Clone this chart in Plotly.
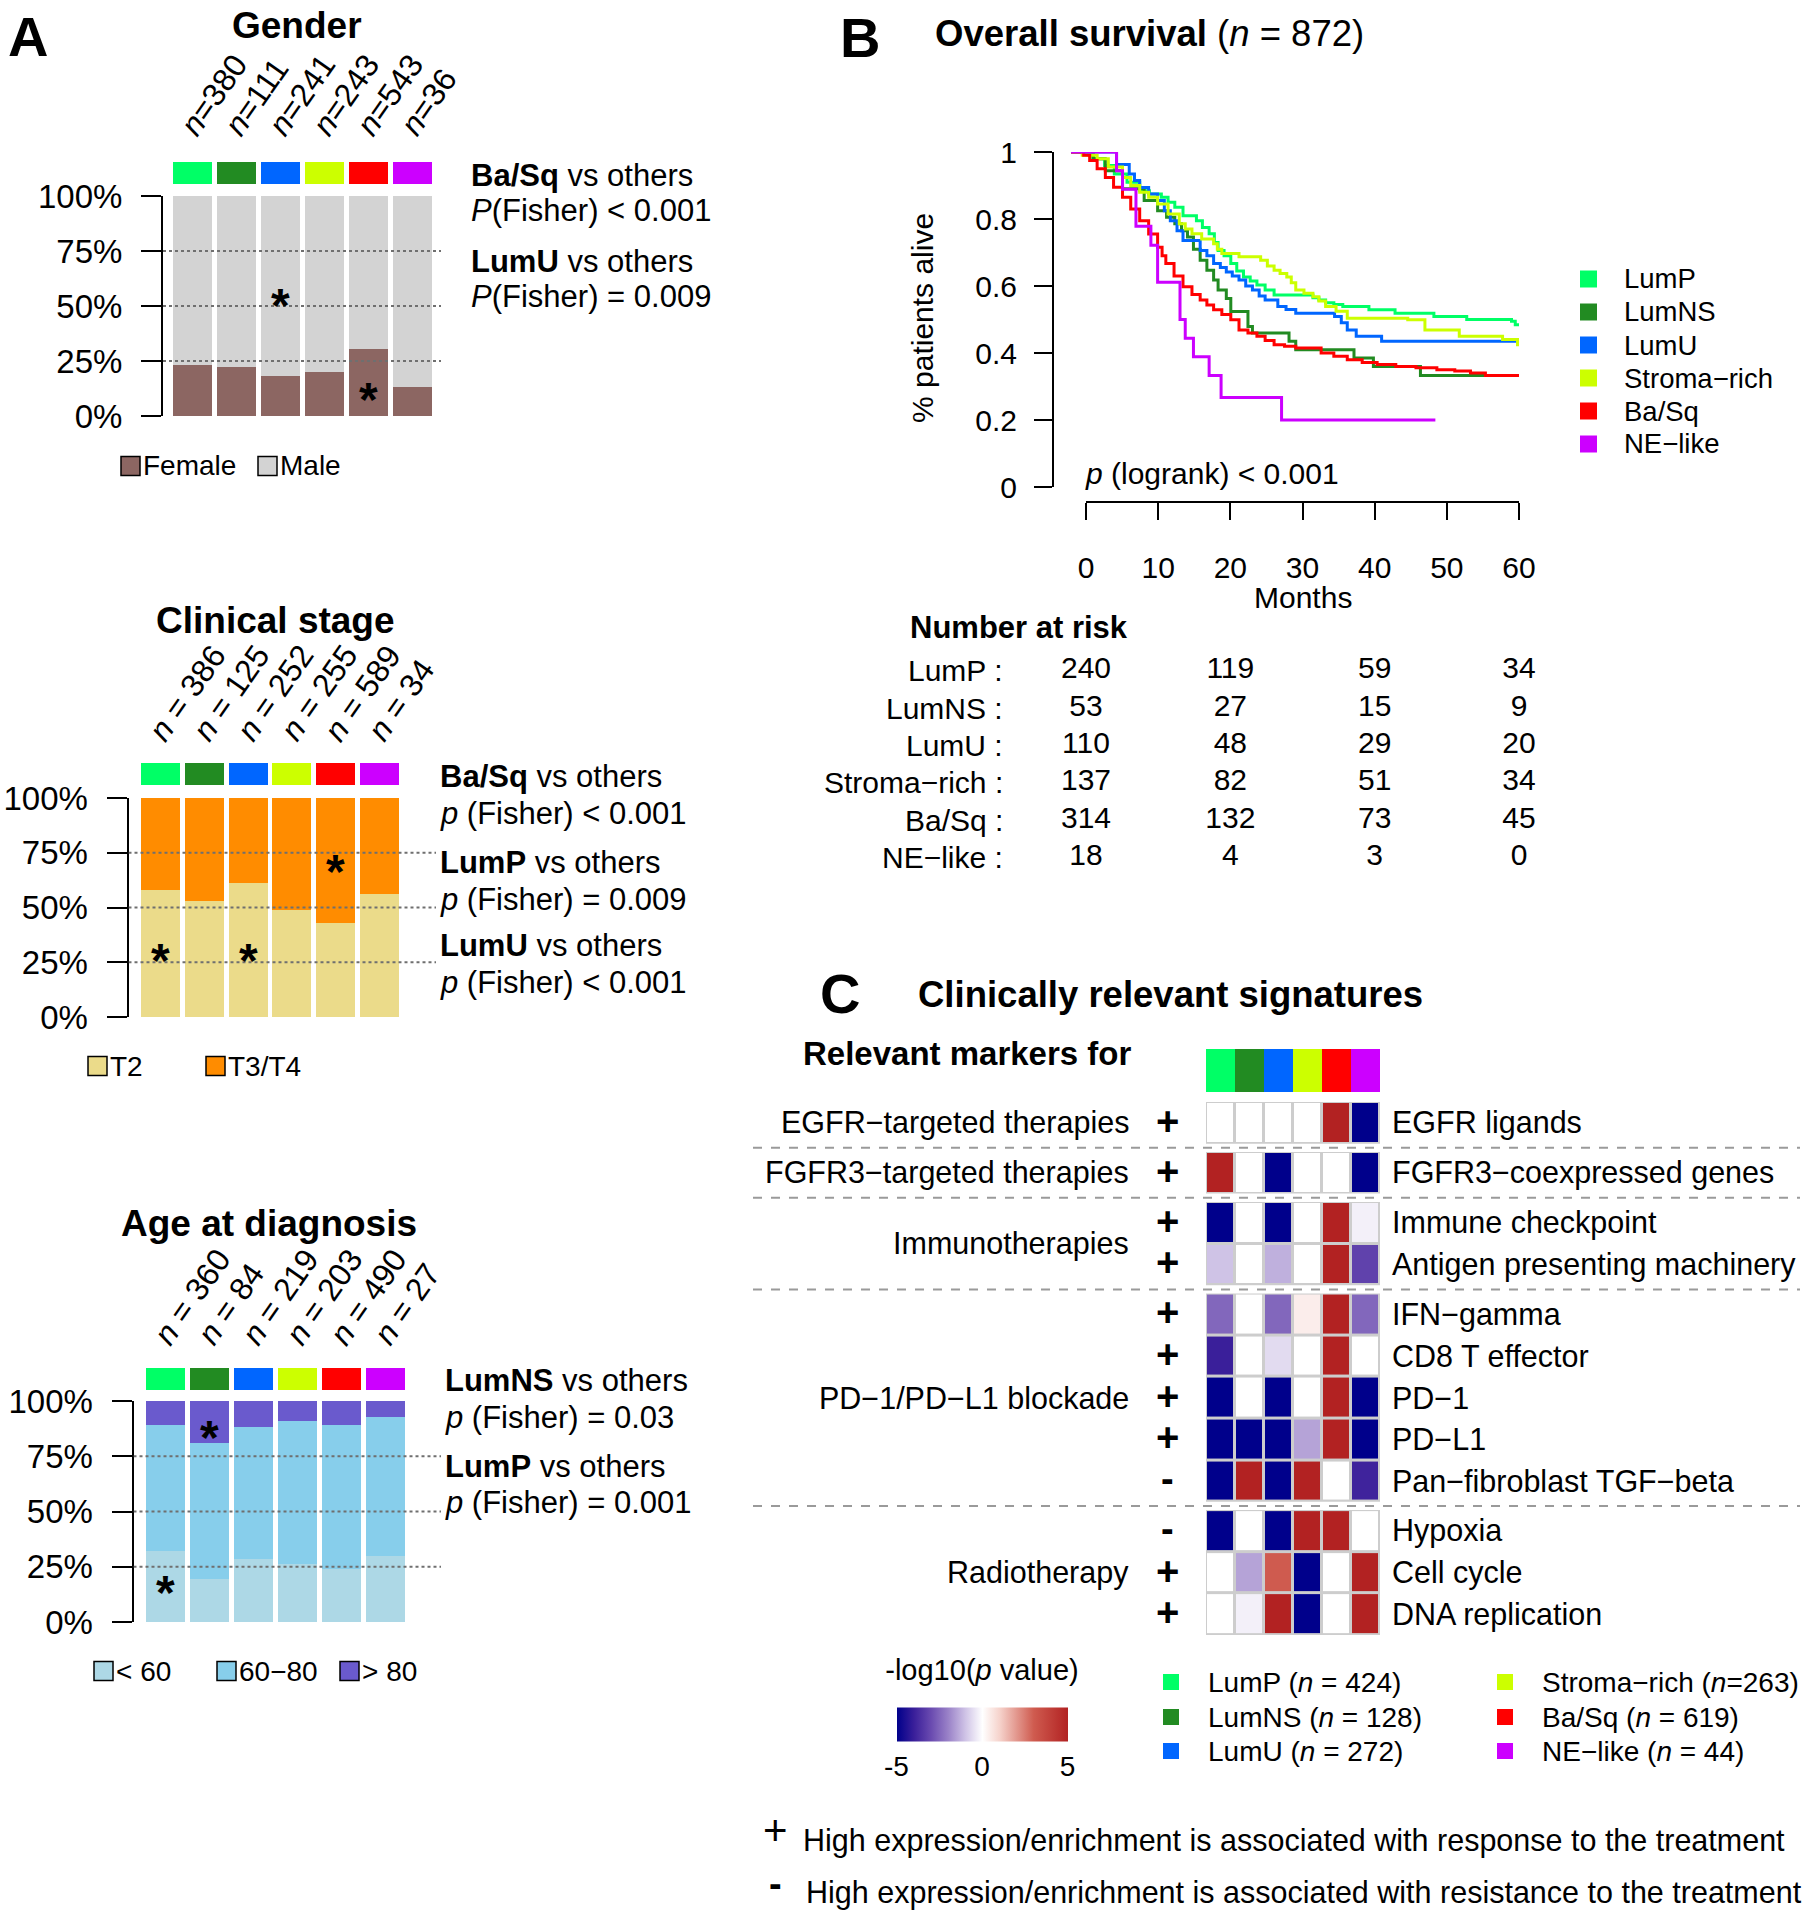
import plotly.graph_objects as go

W, H = 1817, 1920
FONT = "Liberation Sans, Arial, Helvetica, sans-serif"


def px(x):
    return x / W


def py(y):
    return 1 - y / H


# ------------------------------------------------------------------ data
subtypes = ["LumP", "LumNS", "LumU", "Stroma−rich", "Ba/Sq", "NE−like"]
subtype_colors = ["#00FF66", "#228B22", "#0066FF", "#CCFF00", "#FF0000", "#CC00FF"]
subtype_total_n = [424, 128, 272, 263, 619, 44]

# Panel A - Gender
gender_n = [380, 111, 241, 243, 543, 36]
gender_female = [0.234, 0.222, 0.183, 0.200, 0.306, 0.133]
gender_male = [0.766, 0.778, 0.817, 0.800, 0.694, 0.867]

# Panel A - Clinical stage
stage_n = [386, 125, 252, 255, 589, 34]
stage_t2 = [0.582, 0.528, 0.612, 0.487, 0.431, 0.560]
stage_t3t4 = [0.418, 0.472, 0.388, 0.513, 0.569, 0.440]

# Panel A - Age at diagnosis
age_n = [360, 84, 219, 203, 490, 27]
age_lt60 = [0.322, 0.194, 0.285, 0.264, 0.239, 0.297]
age_60_80 = [0.570, 0.615, 0.596, 0.647, 0.653, 0.629]
age_gt80 = [0.108, 0.191, 0.119, 0.089, 0.108, 0.074]

# Panel B - Kaplan-Meier curves (months, survival fraction)
km_lump_t = [0, 2.9, 4.5, 5.8, 7.5, 9.2, 10.5, 12.1, 13.0, 13.9, 15.0, 16.8, 17.6, 18.5, 19.2, 19.7, 20.5, 21.4,
             22.2, 23.1, 24.0, 24.9, 26.0, 27.2, 32.4, 33.2, 34.1, 35.2, 36.4, 39.9, 43.4, 48.6, 53.0, 59.0, 59.5, 60.0]
km_lump_s = [1, 0.98, 0.96, 0.934, 0.91, 0.884, 0.875, 0.865, 0.85, 0.835, 0.81, 0.795, 0.775, 0.756, 0.73, 0.706,
             0.69, 0.667, 0.645, 0.627, 0.615, 0.603, 0.588, 0.573, 0.565, 0.558, 0.55, 0.545, 0.539, 0.529, 0.519,
             0.509, 0.50, 0.495, 0.484, 0.484]
km_lumns_t = [0, 3.0, 4.6, 6.9, 9.8, 11.6, 12.8, 13.9, 14.8, 15.6, 16.4, 17.3, 18.2, 19.1, 19.7, 20.8, 21.4, 23.7,
              24.3, 29.2, 30.1, 37.9, 40.5, 46.8, 60.0]
km_lumns_s = [1, 0.98, 0.944, 0.89, 0.855, 0.825, 0.805, 0.786, 0.765, 0.746, 0.71, 0.677, 0.647, 0.618, 0.588,
              0.563, 0.524, 0.479, 0.46, 0.435, 0.41, 0.385, 0.36, 0.333, 0.333]
km_lumu_t = [0, 6.1, 7.8, 8.5, 9.2, 10.4, 11.6, 12.5, 13.3, 14.2, 15.0, 17.3, 18.2, 19.1, 20.0, 20.8, 21.6, 22.5,
             23.4, 24.3, 25.2, 26.0, 27.7, 28.8, 30.1, 35.3, 36.2, 37.0, 38.2, 41.6, 60.0]
km_lumu_s = [1, 0.963, 0.934, 0.915, 0.894, 0.875, 0.855, 0.825, 0.795, 0.765, 0.736, 0.706, 0.69, 0.667, 0.655,
             0.642, 0.63, 0.618, 0.60, 0.588, 0.57, 0.558, 0.539, 0.53, 0.519, 0.509, 0.49, 0.469, 0.45, 0.435, 0.435]
km_stroma_t = [0, 1.5, 3.5, 5.0, 6.9, 8.0, 9.2, 10.4, 11.6, 13.0, 14.5, 15.3, 16.2, 17.5, 19.1, 19.6, 20.2, 22.5,
               25.4, 26.3, 27.2, 28.0, 28.9, 29.5, 30.1, 31.2, 32.4, 33.2, 34.1, 35.5, 37.0, 45.1, 47.4, 52.0,
               57.8, 59.8]
km_stroma_s = [1, 0.99, 0.98, 0.955, 0.924, 0.90, 0.88, 0.865, 0.845, 0.815, 0.786, 0.77, 0.756, 0.74, 0.726, 0.71,
               0.697, 0.687, 0.677, 0.66, 0.647, 0.637, 0.627, 0.61, 0.588, 0.578, 0.568, 0.555, 0.539, 0.525, 0.504,
               0.499, 0.469, 0.45, 0.44, 0.42]
km_basq_t = [0, 1.7, 2.5, 3.5, 4.6, 5.7, 6.9, 8.0, 9.2, 10.4, 11.6, 12.2, 12.7, 13.8, 15.0, 16.2, 17.3, 18.2, 19.1,
             20.2, 21.4, 22.5, 23.7, 24.9, 26.0, 27.2, 28.6, 30.1, 33.5, 35.2, 37.0, 39.0, 41.0, 43.5, 46.2, 49.0,
             51.4, 53.5, 55.5, 60.0]
km_basq_s = [1, 0.99, 0.975, 0.95, 0.924, 0.895, 0.865, 0.83, 0.795, 0.755, 0.716, 0.69, 0.667, 0.63, 0.598, 0.575,
             0.558, 0.543, 0.529, 0.515, 0.499, 0.469, 0.46, 0.45, 0.437, 0.425, 0.42, 0.415, 0.40, 0.39, 0.38, 0.372,
             0.366, 0.36, 0.356, 0.35, 0.346, 0.34, 0.333, 0.329]
km_ne_t = [0, 6.1, 6.9, 8.7, 10.7, 11.6, 14.6, 15.3, 16.4, 18.5, 20.1, 28.2, 48.8]
km_ne_s = [1, 0.944, 0.889, 0.778, 0.722, 0.611, 0.5, 0.444, 0.389, 0.333, 0.267, 0.2, 0.2]

km_times = [km_lump_t, km_lumns_t, km_lumu_t, km_stroma_t, km_basq_t, km_ne_t]
km_surv = [km_lump_s, km_lumns_s, km_lumu_s, km_stroma_s, km_basq_s, km_ne_s]

# Number at risk
risk_times = [0, 20, 40, 60]
risk_lump = [240, 119, 59, 34]
risk_lumns = [53, 27, 15, 9]
risk_lumu = [110, 48, 29, 20]
risk_stroma = [137, 82, 51, 34]
risk_basq = [314, 132, 73, 45]
risk_ne = [18, 4, 3, 0]
risk_rows = [risk_lump, risk_lumns, risk_lumu, risk_stroma, risk_basq, risk_ne]

# Panel C - signatures heatmap (signed -log10 p value)
sig_labels = ["EGFR ligands", "FGFR3−coexpressed genes", "Immune checkpoint", "Antigen presenting machinery",
              "IFN−gamma", "CD8 T effector", "PD−1", "PD−L1", "Pan−fibroblast TGF−beta", "Hypoxia", "Cell cycle",
              "DNA replication"]
sig_groups = ["EGFR−targeted therapies", "FGFR3−targeted therapies", "Immunotherapies", "Immunotherapies",
              "PD−1/PD−L1 blockade", "PD−1/PD−L1 blockade", "PD−1/PD−L1 blockade", "PD−1/PD−L1 blockade",
              "PD−1/PD−L1 blockade", "Radiotherapy", "Radiotherapy", "Radiotherapy"]
sig_signs = ["+", "+", "+", "+", "+", "+", "+", "+", "-", "-", "+", "+"]
sig_values = [
    [0, 0, 0, 0, 5, -5],
    [5, 0, -5, 0, 0, -5],
    [-5, 0, -5, 0, 5, -0.25],
    [-1.0, 0, -1.3, 0, 5, -3.2],
    [-2.5, 0, -2.5, 0.4, 5, -2.5],
    [-4.0, 0, -0.6, 0, 5, 0],
    [-5, 0, -5, 0, 5, -5],
    [-5, -5, -5, -1.5, 5, -5],
    [-5, 5, -5, 5, 0, -3.9],
    [-5, 0, -5, 5, 5, 0],
    [0, -1.5, 3, -5, 0, 5],
    [0, -0.25, 5, -5, 0, 5],
]
heat_colorscale = [
    [0.0, "#00008B"], [0.1, "#3A1F9A"], [0.2, "#6A4BB0"], [0.3, "#9A82C8"], [0.4, "#CFC3E6"],
    [0.5, "#FFFFFF"], [0.6, "#F6D3CC"], [0.8, "#CF5B4F"], [1.0, "#B22222"],
]

# ------------------------------------------------------------------ helpers
fig = go.Figure()
axes = {}
annotations = []
shapes = []
counter = [0]


def add_axes(x0, x1, ytop, ybot, xrange, yrange, xextra=None, yextra=None):
    counter[0] += 1
    s = "" if counter[0] == 1 else str(counter[0])
    xa = dict(domain=[px(x0), px(x1)], range=xrange, visible=False, fixedrange=True, anchor="y" + s,
              showgrid=False, zeroline=False, automargin=False)
    ya = dict(domain=[py(ybot), py(ytop)], range=yrange, visible=False, fixedrange=True, anchor="x" + s,
              showgrid=False, zeroline=False, automargin=False)
    if xextra:
        xa.update(xextra)
    if yextra:
        ya.update(yextra)
    axes["xaxis" + s] = xa
    axes["yaxis" + s] = ya
    return "x" + s, "y" + s


def text(t, x, y, size, xanchor="center", yanchor="middle", xref="paper", yref="paper", angle=0,
         yshift=0, color="black"):
    annotations.append(dict(text=t, x=x, y=y, xref=xref, yref=yref, xanchor=xanchor, yanchor=yanchor,
                            showarrow=False, textangle=angle, yshift=yshift,
                            font=dict(size=size, color=color, family=FONT)))


def square(x0, yc, size, color, border=True):
    shapes.append(dict(type="rect", xref="paper", yref="paper", x0=px(x0), x1=px(x0 + size),
                       y0=py(yc + size / 2), y1=py(yc - size / 2), fillcolor=color,
                       line=dict(color="black" if border else color, width=1.5 if border else 0)))


# ------------------------------------------------------------------ panel A
def bar_panel(title, title_xy, n_vals, n_sep, n_bottom, comps, comp_colors, axis_x, c0, step, y0, y100,
              strip, dot_end, stars, legend_labels, legend_x, legend_y, notes, note_x):
    xr = [(axis_x - c0) / step, (dot_end - c0) / step]
    bw = 39 / step
    xa, ya = add_axes(axis_x, dot_end, y100, y0, xr, [0, 1], yextra=dict(
        visible=True, showline=True, linecolor="black", linewidth=2, ticks="outside", ticklen=20,
        tickwidth=2, tickcolor="black", tickvals=[0, 0.25, 0.5, 0.75, 1],
        ticktext=["0%", "25%", "50%", "75%", "100%"], tickfont=dict(size=33, family=FONT, color="black"),
        ticklabelstandoff=12))
    cats = list(range(len(n_vals)))
    for vals, col in zip(comps, comp_colors):
        fig.add_trace(go.Bar(x=cats, y=vals, width=bw, marker=dict(color=col, line=dict(width=0)),
                             xaxis=xa, yaxis=ya, showlegend=False, hoverinfo="skip"))
    for v in [0.25, 0.5, 0.75]:
        shapes.append(dict(type="line", xref=xa, yref=ya, x0=xr[0], x1=xr[1], y0=v, y1=v, layer="above",
                           line=dict(color="#6f6f6f", width=1.8, dash="dot")))
    sxa, sya = add_axes(axis_x, dot_end, strip[0], strip[1], xr, [0, 1])
    fig.add_trace(go.Bar(x=cats, y=[1] * len(cats), width=bw,
                         marker=dict(color=subtype_colors, line=dict(width=0)),
                         xaxis=sxa, yaxis=sya, showlegend=False, hoverinfo="skip"))
    text("<b>%s</b>" % title, px(title_xy[0]), py(title_xy[1]), 37)
    for i, n in enumerate(n_vals):
        text("<i>n</i>%s%d" % (n_sep, n), i - 0.5, py(n_bottom), 32, xanchor="left", yanchor="bottom",
             xref=xa, angle=-55)
    for ci, yv in stars:
        text("<b>*</b>", ci, yv, 48, xref=xa, yref=ya, yshift=-12)
    for lab, col, lx in zip(legend_labels, comp_colors, legend_x):
        square(lx, legend_y, 19, col)
        text(lab, px(lx + 20), py(legend_y), 28, xanchor="left")
    for t, ny in notes:
        text(t, px(note_x), py(ny), 31, xanchor="left")


bar_panel("Gender", (297, 25), gender_n, "=", 145, [gender_female, gender_male], ["#8C6662", "#D3D3D3"],
          163, 192.5, 44, 416, 196, (162, 184), 441, [(2, 0.555), (4, 0.13)],
          ["Female", "Male"], [121, 258], 466,
          [("<b>Ba/Sq</b> vs others", 175), ("<i>P</i>(Fisher) < 0.001", 211),
           ("<b>LumU</b> vs others", 261), ("<i>P</i>(Fisher) = 0.009", 296)], 469)

bar_panel("Clinical stage", (275, 620), stage_n, " = ", 750, [stage_t2, stage_t3t4], ["#EBDB8A", "#FF8C00"],
          128.5, 160.5, 43.8, 1017, 798, (763, 785), 436, [(0, 0.314), (2, 0.314), (4, 0.72)],
          ["T2", "T3/T4"], [88, 206], 1066,
          [("<b>Ba/Sq</b> vs others", 776), ("<i>p</i> (Fisher) < 0.001", 813),
           ("<b>LumP</b> vs others", 862), ("<i>p</i> (Fisher) = 0.009", 899),
           ("<b>LumU</b> vs others", 945), ("<i>p</i> (Fisher) < 0.001", 982)], 438)

bar_panel("Age at diagnosis", (269, 1223), age_n, " = ", 1354, [age_lt60, age_60_80, age_gt80],
          ["#ADD8E6", "#87CEEB", "#6A5ACD"],
          133.5, 165.3, 44.06, 1622, 1401, (1368, 1390), 441, [(0, 0.19), (1, 0.89)],
          ["< 60", "60−80", "> 80"], [94, 217, 340], 1671,
          [("<b>LumNS</b> vs others", 1380), ("<i>p</i> (Fisher) = 0.03", 1417),
           ("<b>LumP</b> vs others", 1466), ("<i>p</i> (Fisher) = 0.001", 1502)], 443)

text("<b>A</b>", px(28), py(36), 56)

# ------------------------------------------------------------------ panel B
kx, ky = add_axes(1071, 1519, 152, 487, [0, 60], [0, 1], yextra=dict(
    visible=True, anchor="free", position=px(1053), showline=True, linecolor="black", linewidth=2,
    ticks="outside", ticklen=18, tickwidth=2, tickcolor="black", tickvals=[0, 0.2, 0.4, 0.6, 0.8, 1],
    ticktext=["0", "0.2", "0.4", "0.6", "0.8", "1"], tickfont=dict(size=30, family=FONT, color="black"),
    ticklabelstandoff=11))
for t, s, col in zip(km_times, km_surv, subtype_colors):
    fig.add_trace(go.Scatter(x=t, y=s, mode="lines", line=dict(color=col, width=3, shape="hv"),
                             xaxis=kx, yaxis=ky, showlegend=False, hoverinfo="skip"))

# month axis (ticks) + number at risk table
rx, ry = add_axes(1086, 1519, 652, 876, [0, 60], [5.5, -0.5], xextra=dict(
    visible=True, anchor="free", position=py(502), side="bottom", showline=True, linecolor="black",
    linewidth=2, ticks="outside", ticklen=17, tickwidth=2, tickcolor="black",
    tickvals=[0, 10, 20, 30, 40, 50, 60], tickfont=dict(size=30, family=FONT, color="black"),
    ticklabelstandoff=22))
for i, row in enumerate(risk_rows):
    fig.add_trace(go.Scatter(x=risk_times, y=[i] * len(risk_times), mode="text", text=[str(v) for v in row],
                             textfont=dict(size=30, family=FONT, color="black"), textposition="middle center",
                             cliponaxis=False, xaxis=rx, yaxis=ry, showlegend=False, hoverinfo="skip"))
    text(subtypes[i] + " :", px(1005), i, 30, xanchor="right", yref=ry)
text("<b>Number at risk</b>", px(908), py(627), 31, xanchor="left")
text("Months", px(1303), py(597), 30)
text("% patients alive", px(922), py(318), 30, angle=-90)
text("<i>p</i> (logrank) < 0.001", px(1083), py(473), 30, xanchor="left")
text("<b>B</b>", px(860), py(37), 56)
text("<b>Overall survival</b> (<i>n</i> = 872)", px(933), py(33), 36.5, xanchor="left")
for i, (lab, col) in enumerate(zip(subtypes, subtype_colors)):
    yc = 279 + i * 33
    square(1580, yc, 17, col, border=False)
    text(lab, px(1622), py(yc), 27.5, xanchor="left")

# ------------------------------------------------------------------ panel C
row_pos = []
p = 0.0
for i, g in enumerate(sig_groups):
    if i > 0:
        p += 1.0 if g == sig_groups[i - 1] else 1.2
    row_pos.append(p)

hx, hy = add_axes(1206, 1380, 1102, 1635, [-0.5, 5.5], [row_pos[-1] + 0.5, -0.5])
first = True
i = 0
group_rows = []
while i < len(sig_groups):
    j = i
    while j < len(sig_groups) and sig_groups[j] == sig_groups[i]:
        j += 1
    group_rows.append((i, j))
    i = j

for gi, (a, b) in enumerate(group_rows):
    shapes.append(dict(type="rect", xref=hx, yref=hy, x0=-0.5, x1=5.5, y0=row_pos[a] - 0.5,
                       y1=row_pos[b - 1] + 0.5, fillcolor="#CDCDCD", line=dict(width=0), layer="below"))
    trace = go.Heatmap(z=sig_values[a:b], x=list(range(6)), y=row_pos[a:b], colorscale=heat_colorscale,
                       zmin=-5, zmax=5, xgap=3, ygap=3, xaxis=hx, yaxis=hy, hoverinfo="skip",
                       showscale=first)
    if first:
        trace.colorbar = dict(orientation="h", x=px(982), xanchor="center", y=py(1724), yanchor="middle",
                              len=171, lenmode="pixels", thickness=34, thicknessmode="pixels",
                              tickvals=[-5, 0, 5], ticktext=["-5", "0", "5"], ticks="",
                              tickfont=dict(size=28, family=FONT, color="black"), outlinewidth=0,
                              xpad=0, ypad=0,
                              title=dict(text="-log10(<i>p</i> value)", side="top",
                                         font=dict(size=29, family=FONT, color="black")))
    fig.add_trace(trace)
    first = False
    ymid = (row_pos[a] + row_pos[b - 1]) / 2
    text(sig_groups[a], px(1131), ymid, 30.5, xanchor="right", yref=hy)
    if gi > 0:
        ysep = (row_pos[a - 1] + row_pos[a]) / 2
        shapes.append(dict(type="line", xref="paper", yref=hy, x0=px(753), x1=px(1800), y0=ysep, y1=ysep,
                           line=dict(color="#9A9A9A", width=2, dash="dash")))

for k, lab in enumerate(sig_labels):
    text(lab, px(1390), row_pos[k], 30.5, xanchor="left", yref=hy)
    text("<b>%s</b>" % sig_signs[k], px(1167), row_pos[k], 40 if sig_signs[k] == "+" else 38, yref=hy,
         yshift=2)

sx, sy = add_axes(1206, 1380, 1049, 1092, [-0.5, 5.5], [0, 1])
fig.add_trace(go.Bar(x=list(range(6)), y=[1] * 6, width=1.0, marker=dict(color=subtype_colors, line=dict(width=0)),
                     xaxis=sx, yaxis=sy, showlegend=False, hoverinfo="skip"))

text("<b>C</b>", px(840), py(993), 56)
text("<b>Clinically relevant signatures</b>", px(916), py(994), 36.5, xanchor="left")
text("<b>Relevant markers for</b>", px(801), py(1053), 33, xanchor="left")

for k, (lab, col, n) in enumerate(zip(subtypes, subtype_colors, subtype_total_n)):
    colx = 1163 if k < 3 else 1497
    tx = 1206 if k < 3 else 1540
    yc = [1682, 1717, 1751][k % 3]
    square(colx, yc, 16, col, border=False)
    sep = "=" if lab == "Stroma−rich" else " = "
    text("%s (<i>n</i>%s%d)" % (lab, sep, n), px(tx), py(yc), 28, xanchor="left")

text("+", px(775), py(1830), 42)
text("High expression/enrichment is associated with response to the treatment", px(801), py(1840), 30.5,
     xanchor="left")
text("<b>-</b>", px(775), py(1884), 38)
text("High expression/enrichment is associated with resistance to the treatment", px(804), py(1892), 30.5,
     xanchor="left")

fig.update_layout(width=W, height=H, margin=dict(l=0, r=0, t=0, b=0, pad=0, autoexpand=False),
                  paper_bgcolor="white", plot_bgcolor="white", showlegend=False, barmode="stack", bargap=0,
                  font=dict(family=FONT, color="black"), annotations=annotations, shapes=shapes, **axes)

fig.write_html("out.html", config={"displayModeBar": False, "staticPlot": True},
               post_script="document.body.style.margin='0';")
